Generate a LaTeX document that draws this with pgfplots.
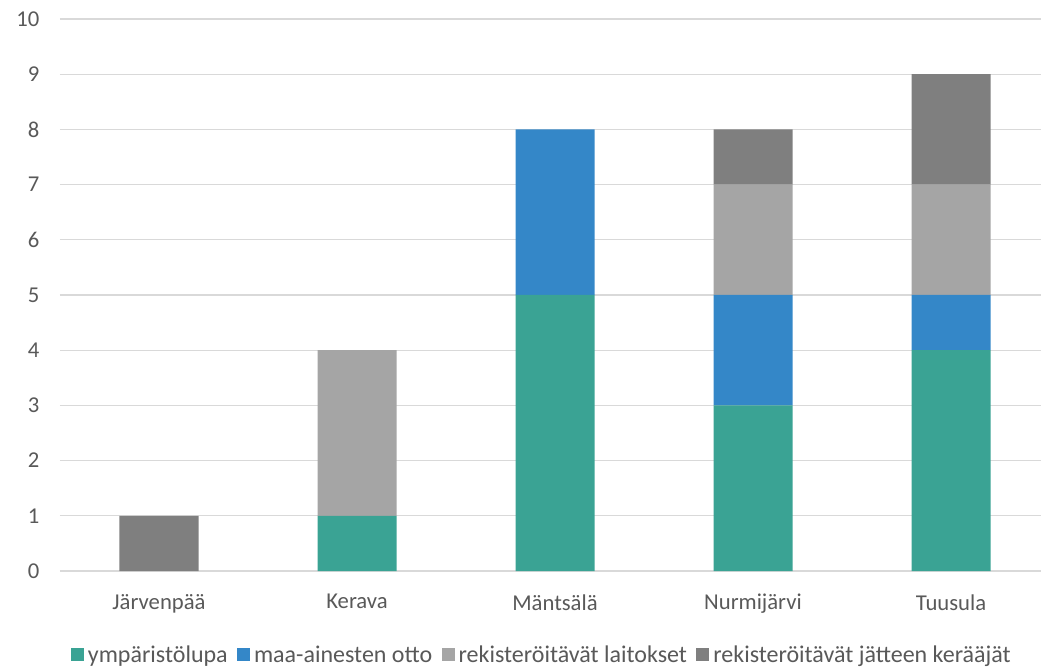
\documentclass[border=0pt]{standalone}
\usepackage{pgfplots}
\pgfplotsset{compat=1.18}
\usepackage{fontspec}
\setmainfont{Carlito}
\definecolor{teal1}{HTML}{3AA394}
\definecolor{blue1}{HTML}{3487C8}
\definecolor{grey1}{HTML}{A5A5A5}
\definecolor{grey2}{HTML}{7F7F7F}
\definecolor{txt}{HTML}{595959}
\definecolor{gridc}{HTML}{D9D9D9}
\begin{document}
\begin{tikzpicture}
  \begin{axis}[
      at={(0,0)}, anchor=south west,
      scale only axis,
      width=742.5pt, height=414pt,
      ybar stacked,
      bar width=59.25pt,
      xmin=-0.5, xmax=4.5,
      ymin=0, ymax=10,
      xtick={0,1,2,3,4},
      xticklabels={Järvenpää,Kerava,Mäntsälä,Nurmijärvi,Tuusula},
      ytick={0,...,10},
      axis line style={draw=none},
      axis x line*=bottom,
      x axis line style={draw=gridc, line width=0.9pt},
      tick style={draw=none},
      ymajorgrids,
      grid style={gridc, line width=0.9pt},
      tick label style={font=\fontsize{17}{20}\selectfont, text=txt},
      /pgf/number format/assume math mode=true,
      yticklabel style={xshift=-12pt},
      xticklabel style={yshift=-14pt},
      legend style={
        at={(0.487,-0.152)}, anchor=center,
        draw=none, legend columns=4,
        font=\fontsize{18}{21}\selectfont, text=txt,
        /tikz/every odd column/.append style={column sep=1pt},
        /tikz/every even column/.append style={column sep=5pt},
      },
      legend image code/.code={
        \fill[#1] (0pt,-4.9pt) rectangle (9.75pt,4.9pt);
      },
      legend cell align=left,
    ]
    \addplot[fill=teal1, draw=none] coordinates {(0,0) (1,1) (2,5) (3,3) (4,4)};
    \addlegendentry{ympäristölupa}
    \addplot[fill=blue1, draw=none] coordinates {(0,0) (1,0) (2,3) (3,2) (4,1)};
    \addlegendentry{maa-ainesten otto}
    \addplot[fill=grey1, draw=none] coordinates {(0,0) (1,3) (2,0) (3,2) (4,2)};
    \addlegendentry{rekisteröitävät laitokset}
    \addplot[fill=grey2, draw=none] coordinates {(0,1) (1,0) (2,0) (3,1) (4,2)};
    \addlegendentry{rekisteröitävät jätteen kerääjät}
  \end{axis}
  \pgfresetboundingbox
  \path[use as bounding box] (-45pt,-72pt) rectangle (735.75pt,428.25pt);
\end{tikzpicture}
\end{document}
